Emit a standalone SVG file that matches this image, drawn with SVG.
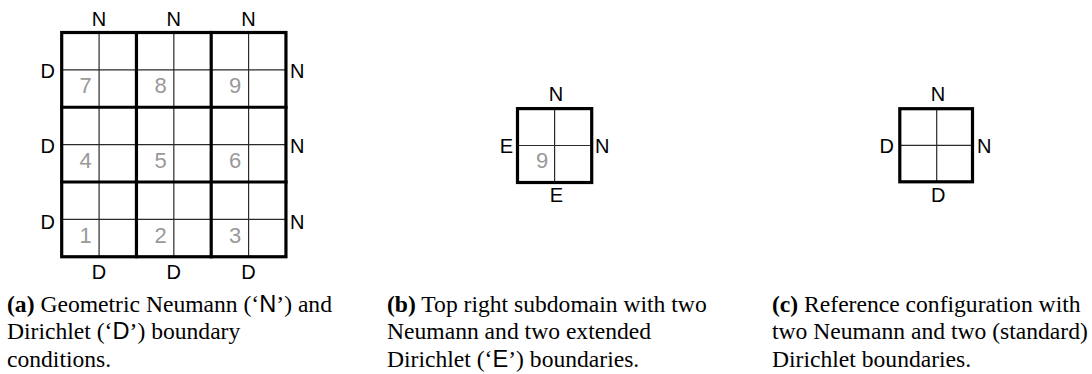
<svg xmlns="http://www.w3.org/2000/svg" width="1092" height="374" viewBox="0 0 1092 374">
<style>
.thin{stroke:#2a2a2a;stroke-width:1.2;fill:none}
.thick{stroke:#000;stroke-width:3.2;fill:none;stroke-linecap:square}
.lbl{font-family:"Liberation Sans",Arial,sans-serif;font-size:20px;fill:#000}
.num{font-family:"Liberation Sans",Arial,sans-serif;font-size:22px;fill:#999;text-anchor:middle}
.mid{text-anchor:middle}
.end{text-anchor:end}
.cap{font-family:"Liberation Serif","Times New Roman",serif;font-size:23.6px;fill:#000}
.sans{font-family:"Liberation Sans",Arial,sans-serif}
</style>
<rect width="1092" height="374" fill="#fff"/>

<g id="grid-a">
  <g class="thin">
    <line x1="99.08" y1="32.5" x2="99.08" y2="256.75"/>
    <line x1="173.83" y1="32.5" x2="173.83" y2="256.75"/>
    <line x1="248.58" y1="32.5" x2="248.58" y2="256.75"/>
    <line x1="61.7" y1="69.9" x2="285.95" y2="69.9"/>
    <line x1="61.7" y1="144.6" x2="285.95" y2="144.6"/>
    <line x1="61.7" y1="219.4" x2="285.95" y2="219.4"/>
  </g>
  <g class="thick">
    <line x1="136.45" y1="32.5" x2="136.45" y2="256.75"/>
    <line x1="211.2" y1="32.5" x2="211.2" y2="256.75"/>
    <line x1="61.7" y1="107.25" x2="285.95" y2="107.25"/>
    <line x1="61.7" y1="182" x2="285.95" y2="182"/>
    <rect x="61.7" y="32.5" width="224.25" height="224.25"/>
  </g>
  <g id="numbers-a">
    <text class="num" x="85.7" y="93">7</text>
    <text class="num" x="160.5" y="93">8</text>
    <text class="num" x="235.2" y="93">9</text>
    <text class="num" x="85.7" y="167.8">4</text>
    <text class="num" x="160.5" y="167.8">5</text>
    <text class="num" x="235.2" y="167.8">6</text>
    <text class="num" x="85.7" y="242.5">1</text>
    <text class="num" x="160.5" y="242.5">2</text>
    <text class="num" x="235.2" y="242.5">3</text>
  </g>
  <g id="labels-a">
    <text class="lbl mid" x="99.1" y="26">N</text>
    <text class="lbl mid" x="173.8" y="26">N</text>
    <text class="lbl mid" x="248.6" y="26">N</text>
    <text class="lbl end" x="55" y="78">D</text>
    <text class="lbl end" x="55" y="153.3">D</text>
    <text class="lbl end" x="55" y="228.6">D</text>
    <text class="lbl" x="290" y="78">N</text>
    <text class="lbl" x="290" y="153.3">N</text>
    <text class="lbl" x="290" y="228.6">N</text>
    <text class="lbl mid" x="99.1" y="279.3">D</text>
    <text class="lbl mid" x="173.8" y="279.3">D</text>
    <text class="lbl mid" x="248.6" y="279.3">D</text>
  </g>
</g>

<g id="grid-b">
  <g class="thin">
    <line x1="554.6" y1="108.6" x2="554.6" y2="182.5"/>
    <line x1="517.5" y1="145.5" x2="591.7" y2="145.5"/>
  </g>
  <rect class="thick" x="517.5" y="108.6" width="74.2" height="73.9"/>
  <text class="num" x="542" y="167.8">9</text>
  <text class="lbl mid" x="556" y="100.7">N</text>
  <text class="lbl end" x="513" y="153.3">E</text>
  <text class="lbl" x="595" y="153.3">N</text>
  <text class="lbl mid" x="556.5" y="201.7">E</text>
</g>

<g id="grid-c">
  <g class="thin">
    <line x1="936.7" y1="108.7" x2="936.7" y2="181.8"/>
    <line x1="899.8" y1="145.3" x2="972.5" y2="145.3"/>
  </g>
  <rect class="thick" x="899.8" y="108.7" width="72.7" height="73.1"/>
  <text class="lbl mid" x="938" y="100.7">N</text>
  <text class="lbl end" x="894" y="153.3">D</text>
  <text class="lbl" x="977" y="153.3">N</text>
  <text class="lbl mid" x="938.3" y="201.7">D</text>
</g>

<g id="caption-a" class="cap">
  <text x="7" y="311.5"><tspan font-weight="bold">(a)</tspan> Geometric Neumann (‘<tspan class="sans">N</tspan>’) and</text>
  <text x="7" y="339">Dirichlet (‘<tspan class="sans">D</tspan>’) boundary</text>
  <text x="7" y="366.5">conditions.</text>
</g>
<g id="caption-b" class="cap">
  <text x="387" y="311.5"><tspan font-weight="bold">(b)</tspan> Top right subdomain with two</text>
  <text x="387" y="339">Neumann and two extended</text>
  <text x="387" y="366.5">Dirichlet (‘<tspan class="sans">E</tspan>’) boundaries.</text>
</g>
<g id="caption-c" class="cap">
  <text x="772" y="311.5"><tspan font-weight="bold">(c)</tspan> Reference configuration with</text>
  <text x="772" y="339">two Neumann and two (standard)</text>
  <text x="772" y="366.5">Dirichlet boundaries.</text>
</g>
</svg>
